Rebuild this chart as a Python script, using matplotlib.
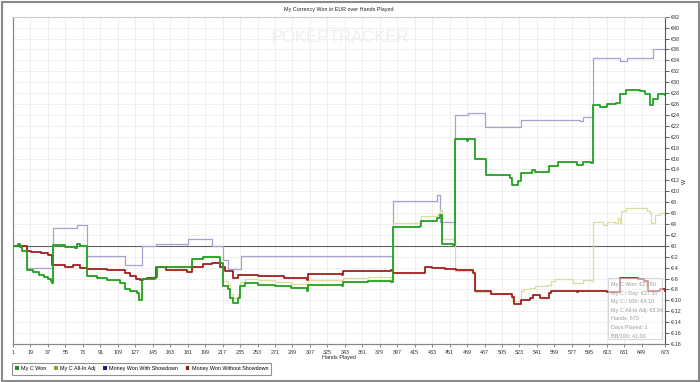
import matplotlib
matplotlib.use("Agg")
import matplotlib.pyplot as plt
from matplotlib.patches import Patch, Rectangle
import numpy as np

plt.rcParams['font.family'] = ['Liberation Sans', 'DejaVu Sans']

# ---------------- data (hand, value) breakpoints ----------------
green_hands = [1, 6, 8, 10, 14, 15, 22, 28, 33, 37, 40, 41, 42, 55, 65, 67, 70, 75, 77, 88, 98, 111, 116, 122, 129, 131, 134, 147, 149, 185, 197, 206, 214, 217, 223, 225, 228, 233, 235, 240, 254, 271, 288, 304, 305, 340, 341, 367, 391, 393, 420, 422, 438, 441, 443, 455, 457, 469, 470, 476, 477, 486, 488, 513, 515, 521, 525, 536, 539, 551, 553, 563, 582, 588, 597, 599, 606, 613, 623, 627, 633, 647, 652, 658, 661, 666, 673]
green_vals = [-0.1, 0.4, -0.3, -0.9, -0.9, -4.4, -4.8, -5.3, -5.7, -6.1, -6.4, -6.8, 0.2, -0.2, -0.4, 0.3, 0.0, -0.1, -5.5, -5.9, -6.2, -6.8, -8.0, -8.3, -8.6, -10.0, -6.1, -5.7, -3.8, -2.4, -2.1, -2.0, -3.2, -7.3, -8.0, -9.6, -10.4, -9.6, -7.4, -6.9, -7.1, -7.4, -7.8, -8.2, -7.1, -7.4, -6.7, -6.5, -6.7, 3.4, 3.7, 4.6, 5.1, 5.7, 0.4, 0.2, 19.6, 19.2, 19.5, 19.5, 16.0, 15.9, 13.0, 12.5, 11.2, 11.8, 13.3, 13.9, 13.5, 13.6, 14.7, 15.4, 14.8, 15.3, 15.1, 25.8, 25.5, 26.0, 26.1, 27.9, 28.5, 28.3, 27.9, 25.9, 27.0, 27.9, 27.6]

allin_hands = [1, 6, 8, 10, 14, 15, 22, 28, 33, 37, 40, 41, 42, 55, 65, 67, 70, 75, 77, 88, 98, 111, 116, 122, 129, 131, 134, 147, 149, 185, 197, 206, 214, 217, 223, 225, 228, 233, 235, 240, 254, 271, 288, 304, 305, 340, 341, 367, 391, 393, 420, 422, 438, 441, 443, 455, 457, 476, 477, 494, 515, 525, 527, 534, 539, 551, 555, 560, 578, 588, 597, 599, 609, 613, 621, 625, 627, 628, 633, 644, 654, 658, 659, 663, 668, 673]
allin_vals = [-0.1, 0.4, -0.3, -0.9, -0.9, -4.4, -4.8, -5.3, -5.7, -6.1, -6.4, -6.8, 0.2, -0.2, -0.4, 0.3, 0.0, -0.1, -5.5, -5.9, -6.2, -6.8, -8.0, -8.3, -8.6, -10.0, -6.1, -5.7, -3.8, -2.4, -2.1, -2.0, -3.2, -6.5, -7.2, -8.8, -9.5, -8.8, -6.6, -6.1, -6.3, -6.6, -7.0, -7.4, -6.3, -6.6, -5.9, -5.7, -5.9, 4.2, 4.5, 5.4, 5.9, 6.5, 1.2, 1.0, -4.7, -4.9, -8.4, -8.9, -10.2, -8.2, -8.0, -7.7, -7.3, -7.1, -6.5, -6.1, -6.8, -6.2, -6.5, 4.3, 3.8, 4.3, 4.1, 5.1, 4.2, 6.3, 6.9, 6.9, 6.3, 6.0, 4.1, 5.7, 6.1, 5.7]

sd_hands = [1, 15, 42, 67, 77, 116, 134, 148, 181, 206, 217, 223, 236, 393, 438, 441, 457, 470, 487, 525, 585, 588, 599, 627, 634, 661, 673]
sd_vals = [0.0, -4.0, 3.3, 3.8, -1.8, -3.5, 0.0, 0.3, 1.2, 0.0, -2.6, -4.3, -1.8, 8.3, 9.3, 4.4, 24.0, 24.4, 21.7, 23.0, 22.8, 23.7, 34.4, 33.8, 34.5, 36.0, 36.0]

nsd_hands = [1, 15, 20, 30, 37, 41, 55, 63, 70, 77, 98, 116, 122, 128, 132, 135, 139, 148, 159, 180, 185, 197, 206, 214, 220, 228, 233, 254, 280, 304, 305, 340, 341, 391, 393, 418, 426, 433, 446, 458, 475, 477, 494, 515, 517, 525, 534, 537, 544, 553, 556, 582, 583, 613, 627, 645, 651, 655, 668, 673]
nsd_vals = [0.0, -0.9, -1.2, -1.4, -1.6, -3.5, -3.8, -3.6, -4.0, -4.2, -4.5, -5.0, -5.6, -6.1, -6.3, -6.1, -5.9, -3.8, -4.4, -4.8, -3.8, -3.3, -3.2, -3.9, -4.7, -5.9, -5.3, -5.5, -5.9, -6.3, -5.1, -5.3, -4.7, -4.4, -4.9, -5.0, -3.8, -4.1, -4.3, -4.5, -5.0, -8.2, -8.8, -9.4, -10.7, -9.9, -9.6, -9.1, -9.6, -8.7, -8.2, -8.5, -8.2, -8.5, -5.9, -6.0, -6.5, -8.2, -7.9, -8.3]

x_ticks = [1, 19, 37, 55, 73, 91, 109, 127, 145, 163, 181, 199, 217, 235, 253, 271, 289, 307, 325, 343, 361, 379, 397, 415, 433, 451, 469, 487, 505, 523, 541, 559, 577, 595, 613, 631, 649, 673]
y_ticks = list(range(-18, 43, 2))

series_names = ["My C Won", "My C All-In Adj", "Money Won With Showdown", "Money Won Without Showdown"]
tooltip_lines = ["My C Won: €27.50", "My C / Day: €27.50", "My C / 100: €4.10",
                 "My C All-In Adj: €5.94", "Hands: 673", "Days Played: 1", "BB/100: 41.00"]

# ---------------- figure ----------------
W, H = 700, 382
FS = 3.9
fig = plt.figure(figsize=(W / 100, H / 100), dpi=100)
fig.patch.set_facecolor('white')
# outer frame
fig.patches.append(Rectangle((1.5 / W, 1.5 / H), 1 - 3 / W, 1 - 3 / H, transform=fig.transFigure,
                             fill=False, edgecolor='#8a8a8a', linewidth=1.5))

ax = fig.add_axes([13 / W, 1 - 344 / H, (665 - 13) / W, (344 - 16.7) / H])
ax.set_xlim(1, 673)
ax.set_ylim(-18, 42)

ax.set_xticks(x_ticks)
ax.set_xticklabels([str(t) for t in x_ticks], fontsize=FS, color='#333333')
ax.set_yticks(y_ticks)
ax.set_yticklabels(['€%d' % t for t in y_ticks], fontsize=FS, color='#333333')
ax.yaxis.tick_right()
ax.tick_params(axis='x', length=2, width=0.6, color='#777777', pad=2.5)
ax.tick_params(axis='y', length=3, width=0.6, color='#444444', pad=1.2)
ax.grid(True, color='#ececec', linewidth=0.6)
ax.set_axisbelow(True)

for s in ['left', 'bottom']:
    ax.spines[s].set_color('#888888')
    ax.spines[s].set_linewidth(0.9)
ax.spines['top'].set_color('#cccccc')
ax.spines['top'].set_linewidth(0.8)
ax.spines['right'].set_color('#555555')
ax.spines['right'].set_linewidth(0.8)

# watermark
fig.text(340 / W, 1 - 38 / H, 'POKERTRACKER', ha='center', va='center',
         fontsize=12, color='#eeeeee', zorder=0)

# zero line
ax.axhline(0, color='#606060', linewidth=0.8, zorder=2)

ax.plot(sd_hands, sd_vals, drawstyle='steps-post', color='#a3a3cf', linewidth=0.9, zorder=3)
ax.plot(allin_hands, allin_vals, drawstyle='steps-post', color='#dcdc9c', linewidth=0.9, zorder=4)
ax.plot(nsd_hands, nsd_vals, drawstyle='steps-post', color='#a21e1e', linewidth=1.3, zorder=5)
ax.plot(green_hands, green_vals, drawstyle='steps-post', color='#22a022', linewidth=1.3, zorder=6)

# title and labels
fig.text(339 / W, 1 - 9 / H, 'My Currency Won in EUR over Hands Played', ha='center', va='center',
         fontsize=FS, color='#222222')
fig.text(339 / W, 1 - 357.5 / H, 'Hands Played', ha='center', va='center', fontsize=FS, color='#222222')
fig.text(684 / W, 1 - 181 / H, 'W', ha='center', va='center', fontsize=FS, color='#222222', rotation=90)

# tooltip box
tx0, ty0, tx1, ty1 = 608, 278, 661.5, 339
fig.patches.append(Rectangle((tx0 / W, 1 - ty1 / H), (tx1 - tx0) / W, (ty1 - ty0) / H,
                             transform=fig.transFigure, facecolor='white', alpha=0.55,
                             edgecolor='#bbbbbb', linewidth=0.8, zorder=10))
for i, line in enumerate(tooltip_lines):
    fig.text(611 / W, 1 - (284.5 + i * 8.6) / H, line, ha='left', va='center', fontsize=FS,
             color='#9a9a9a', zorder=11)

# legend
handle_colors = ['#2a8a2a', '#9a9a3a', '#1c1c7a', '#8a1a1a']
handles = [Patch(facecolor=c, edgecolor='none') for c in handle_colors]
leg = fig.legend(handles, series_names, loc='lower left', bbox_to_anchor=(12 / W, 1 - 374.5 / H),
                 ncol=4, fontsize=FS, frameon=True, fancybox=False, handlelength=0.7,
                 handleheight=0.7, handletextpad=0.4, columnspacing=1.4, borderpad=0.6,
                 borderaxespad=0)
leg.get_frame().set_edgecolor('#777777')
leg.get_frame().set_linewidth(0.8)

fig.savefig('out.png', dpi=100, facecolor='white')
